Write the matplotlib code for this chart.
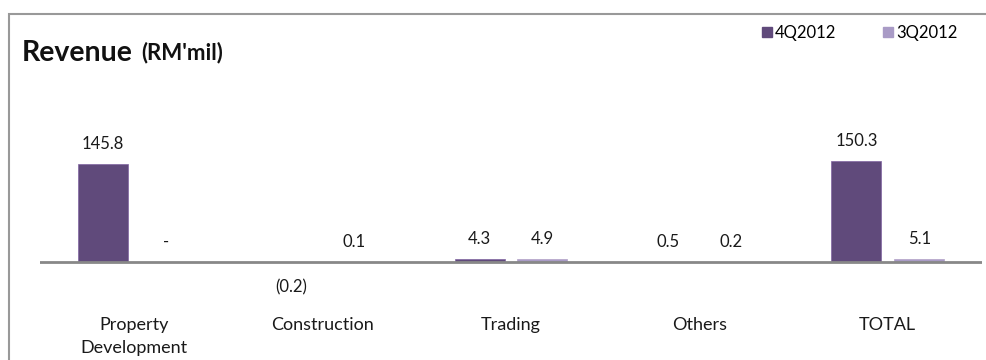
import matplotlib.pyplot as plt
from matplotlib.patches import Rectangle
import numpy as np

plt.rcParams['font.family'] = ['Lato', 'DejaVu Sans']

# Data
categories = ['Property\nDevelopment', 'Construction', 'Trading', 'Others', 'TOTAL']
q4_2012 = [145.8, -0.2, 4.3, 0.5, 150.3]
q3_2012 = [0.0, 0.1, 4.9, 0.2, 5.1]
series_names = ['4Q2012', '3Q2012']

dark = '#604A7B'
light = '#A99BC6'

W, H = 986, 360
fig = plt.figure(figsize=(W / 100, H / 100), dpi=100)

# axes placed in pixel terms: x 40..982, zero line at 262 px from top
px_per_unit = 0.67
ax_bottom, ax_top = 300, 100      # pixels from top
zero_y = 262
ax = fig.add_axes([40 / W, 1 - ax_bottom / H, 942 / W, (ax_bottom - ax_top) / H])
ax.set_ylim(-(ax_bottom - zero_y) / px_per_unit, (zero_y - ax_top) / px_per_unit)

x = np.arange(len(categories))
ax.set_xlim(-0.5, len(categories) - 0.5)
bw = 0.265
off = 0.167

b1 = ax.bar(x - off, q4_2012, bw, color=dark, edgecolor='#8064A2', linewidth=0.5)
b2 = ax.bar(x + off, q3_2012, bw, color=light, edgecolor='#B3A2C7', linewidth=0.5)

ax.axhline(0, color='#888888', linewidth=2)


def fmt(v):
    if v == 0:
        return '-'
    if v < 0:
        return '(%.1f)' % abs(v)
    return '%.1f' % v


for bars, vals in ((b1, q4_2012), (b2, q3_2012)):
    for rect, v in zip(bars, vals):
        cx = rect.get_x() + rect.get_width() / 2
        dy = -25 if v < 0 else 20
        ax.annotate(fmt(v), (cx, v), xytext=(0, dy), textcoords='offset pixels',
                    ha='center', va='center', fontsize=12, color='#1a1a1a')

ax.set_xticks(x)
ax.set_xticklabels(categories, fontsize=13, color='#1a1a1a', linespacing=1.6)
ax.tick_params(axis='x', length=0, pad=12)
ax.set_yticks([])
for s in ax.spines.values():
    s.set_visible(False)

# outer frame (only left and top edges visible in the crop)
fig.patches.append(Rectangle((8.5 / W, -0.1), 1.1, 1.1 - 13.5 / H, transform=fig.transFigure,
                             fill=False, edgecolor='#999999', linewidth=1.5))

# title
t = fig.text(22 / W, 1 - 53 / H, 'Revenue', fontsize=20.5, fontweight='bold',
             va='center', ha='left', color='#111111')
ax.annotate("(RM'mil)", xy=(1, 0.5), xycoords=t, xytext=(8, 0), textcoords='offset pixels',
            va='center', ha='left', fontsize=16, fontweight='bold', color='#111111')

# legend
handles = [Rectangle((0, 0), 1, 1, color=dark), Rectangle((0, 0), 1, 1, color=light)]
fig.legend(handles, series_names, loc='upper right', bbox_to_anchor=(958 / W, 1 - 25 / H),
           ncol=2, frameon=False, fontsize=12, handlelength=0.6, handleheight=0.6,
           handletextpad=0.2, columnspacing=2.8, borderpad=0, borderaxespad=0)

fig.savefig('out.png', dpi=100)
